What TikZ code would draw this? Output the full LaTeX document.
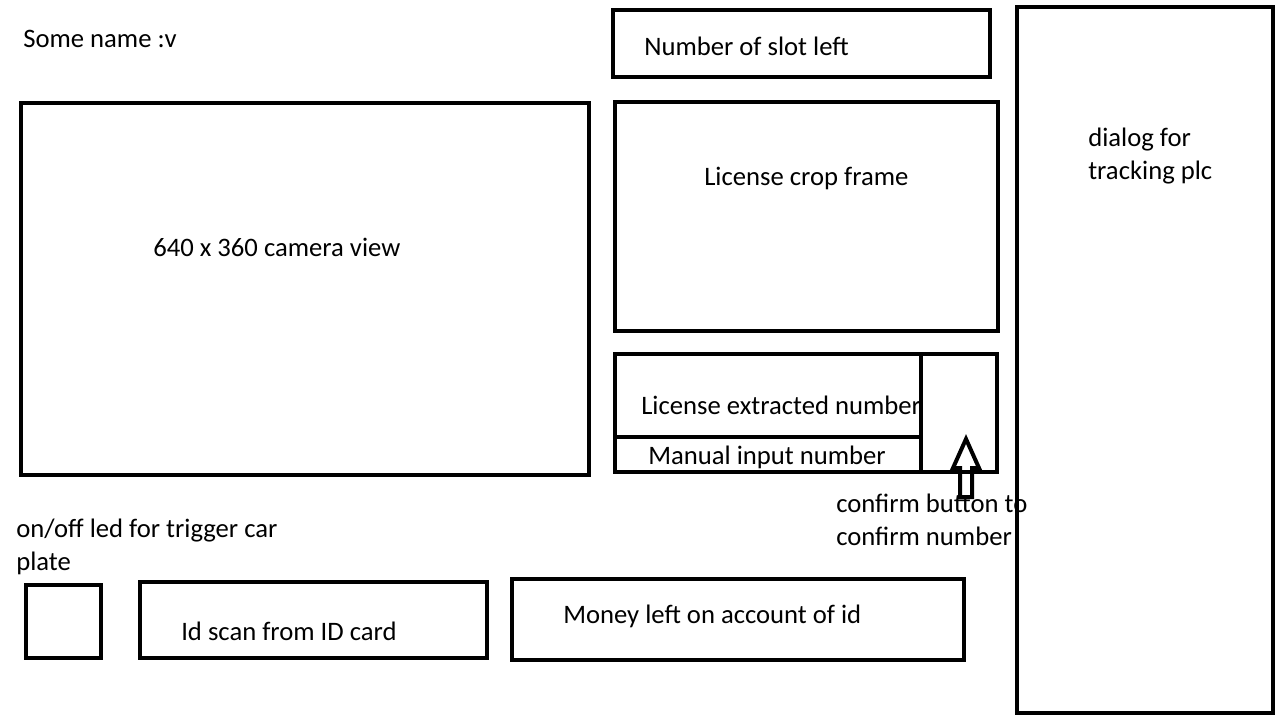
\documentclass[tikz,border=0pt]{standalone}
\usepackage{fontspec}
\setmainfont{Carlito}
\usetikzlibrary{fit}
\begin{document}
\begin{tikzpicture}[x=0.75pt,y=-0.75pt,
  box/.style={draw=black,line width=3pt,inner sep=0pt},
  lbl/.style={anchor=base west,inner sep=0pt,font=\fontsize{20}{24.75}\selectfont,align=left}]
\useasboundingbox (0,0) rectangle (1280,720);
% texts (multi-line: position is the last line's baseline)
\node[lbl] (title) at (23,48) {Some name :v};
\node[lbl] (tslots) at (644,56) {Number of slot left};
\node[lbl] (tcam) at (153,257) {640 x 360 camera view};
\node[lbl] (tcrop) at (704,186) {License crop frame};
\node[lbl] (tdialog) at (1088,180) {dialog for\\tracking plc};
\node[lbl] (textr) at (641,414) {License extracted number};
\node[lbl] (tman) at (648,464) {Manual input number};
\node[lbl] (tconf) at (836,545) {confirm button to\\confirm number};
\node[lbl] (tled) at (16,570) {on/off led for trigger car\\plate};
\node[lbl] (tid) at (181,640) {Id scan from ID card};
\node[lbl] (tmoney) at (563,623) {Money left on account of id};
% boxes
\node[box,fit={(613,10) (990,77)}] (slots) {};
\node[box,fit={(21,103) (589,475)}] (cam) {};
\node[box,fit={(615,102) (998,331)}] (crop) {};
\node[box,fit={(615,354) (921,437)}] (extr) {};
\node[box,fit={(615,437) (921,472)}] (man) {};
\node[box,fit={(921,354) (997,472)}] (confirm) {};
\node[box,fit={(1017,7) (1273,713)}] (dialog) {};
\node[box,fit={(26,585) (101,658)}] (led) {};
\node[box,fit={(140,582) (487,658)}] (idscan) {};
\node[box,fit={(512,579) (964,660)}] (money) {};
% hollow arrow pointing to confirm button
\draw[line width=3pt,line join=miter] (960,497) -- (960,468) -- (953,468) -- (966,439) -- (979,468) -- (972,468) -- (972,497) -- cycle;
\end{tikzpicture}
\end{document}
